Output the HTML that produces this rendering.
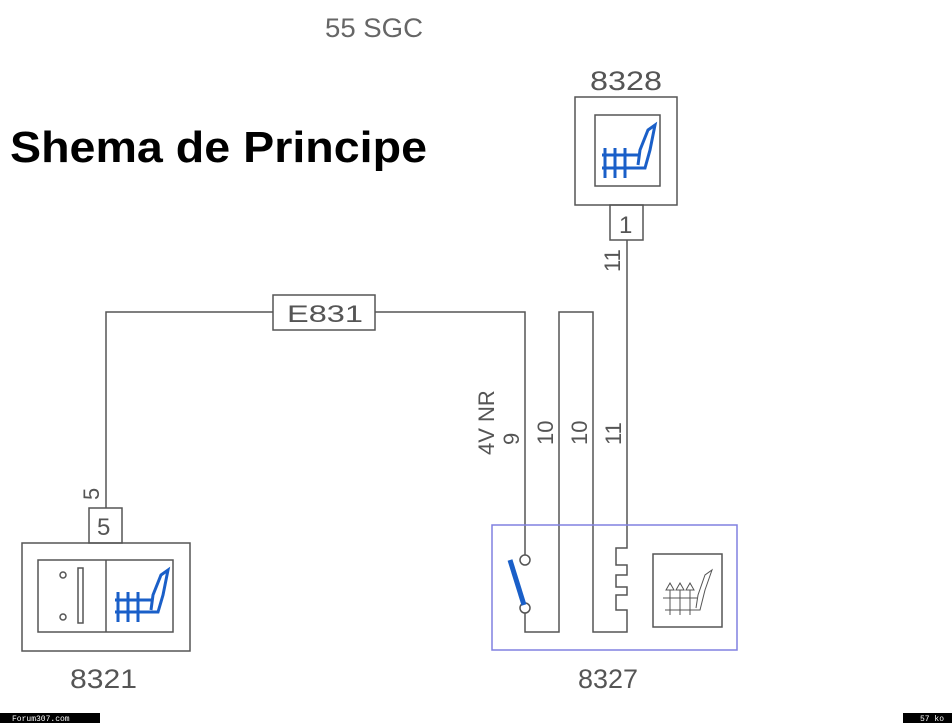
<!DOCTYPE html>
<html><head><meta charset="utf-8"><style>html,body{margin:0;padding:0;background:#fff}svg{display:block}</style></head>
<body>
<svg width="952" height="723" viewBox="0 0 952 723" xmlns="http://www.w3.org/2000/svg">
<g font-family="Liberation Sans, DejaVu Sans, sans-serif" fill="#555">
<text x="325" y="37" font-size="27" textLength="98" lengthAdjust="spacingAndGlyphs" fill="#666">55 SGC</text>
<text x="10" y="162" font-size="44" font-weight="bold" fill="#000" textLength="417" lengthAdjust="spacingAndGlyphs">Shema de Principe</text>
<text x="590" y="90" font-size="27" textLength="72" lengthAdjust="spacingAndGlyphs">8328</text>
<text x="70" y="688" font-size="27" textLength="67" lengthAdjust="spacingAndGlyphs">8321</text>
<text x="578" y="688" font-size="27" textLength="60" lengthAdjust="spacingAndGlyphs">8327</text>
<text x="287" y="322" font-size="24" textLength="76" lengthAdjust="spacingAndGlyphs">E831</text>
<text x="97" y="535" font-size="24">5</text>
<text x="619" y="233" font-size="24">1</text>
<text transform="translate(99,500) rotate(-90)" font-size="22">5</text>
<text transform="translate(620,272) rotate(-90)" font-size="22">11</text>
<text transform="translate(494,455) rotate(-90)" font-size="22">4V NR</text>
<text transform="translate(519,445) rotate(-90)" font-size="22">9</text>
<text transform="translate(553,445) rotate(-90)" font-size="22">10</text>
<text transform="translate(587,445) rotate(-90)" font-size="22">10</text>
<text transform="translate(621,445) rotate(-90)" font-size="22">11</text>
</g>
<g fill="none" stroke="#555" stroke-width="1.5">
<rect x="575" y="97" width="102" height="108"/>
<rect x="595" y="115" width="65" height="71"/>
<rect x="610" y="205" width="33" height="35"/>
<rect x="22" y="543" width="168" height="108"/>
<rect x="38" y="560" width="135" height="72"/>
<line x1="106" y1="560" x2="106" y2="632"/>
<rect x="89" y="508" width="33" height="35"/>
<rect x="273" y="295" width="102" height="35"/>
<polyline points="106,508 106,312 273,312"/>
<polyline points="375,312 525,312 525,555"/>
<polyline points="525,613 525,632 559,632 559,312 593,312 593,632 627,632 627,610 616,610 616,595 627,595 627,587 616,587 616,575 627,575 627,565 616,565 616,548 627,548 627,240"/>
<circle cx="525" cy="560" r="5"/>
<circle cx="525" cy="608" r="5"/>
<rect x="653" y="554" width="69" height="73"/>
<circle cx="63" cy="575" r="3"/>
<circle cx="63" cy="617" r="3"/>
<rect x="78" y="568" width="5" height="55"/>
</g>
<rect x="492" y="525" width="245" height="125" fill="none" stroke="#8080e0" stroke-width="1.5"/>
<line x1="510" y1="560" x2="524" y2="605" stroke="#1a5fc8" stroke-width="5"/>
<g fill="none" stroke="#1a5fc8" stroke-width="3">
<path d="M602 168 L645 168 L650 150 L655 125 L648 130 L640 150 L638 165"/>
<path d="M602 155 L640 155 M605 148 V178 M615 148 V178 M625 148 V178"/>
<path d="M115 612 L158 612 L163 595 L168 570 L161 575 L153 595 L151 610"/>
<path d="M115 600 L153 600 M118 592 V622 M128 592 V622 M138 592 V622"/>
</g>
<g fill="none" stroke="#555" stroke-width="1">
<path d="M665 610 L700 610 L705 590 L712 570 L705 575 L698 595 L696 608"/>
<path d="M663 598 L697 598 M670 590 V615 M680 590 V615 M690 590 V615"/>
<path d="M666 590 l4 -7 l4 7z M676 590 l4 -7 l4 7z M686 590 l4 -7 l4 7z"/>
</g>
<rect x="0" y="713" width="100" height="10" fill="#000"/>
<text x="12" y="721" font-size="8" fill="#fff" font-family="Liberation Mono, monospace">Forum307.com</text>
<rect x="903" y="713" width="49" height="10" fill="#000"/>
<text x="920" y="721" font-size="8" fill="#fff" font-family="Liberation Mono, monospace">57 ko</text>
</svg>
</body></html>
